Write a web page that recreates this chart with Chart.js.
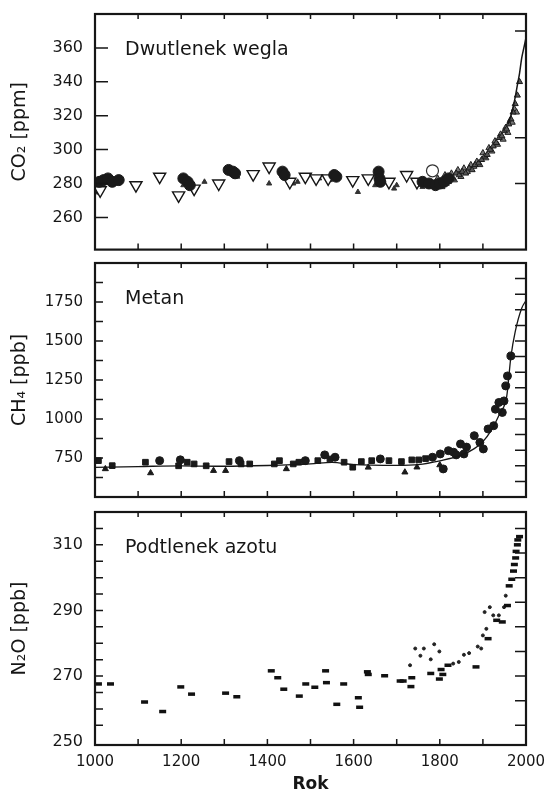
<!DOCTYPE html>
<html>
<head>
<meta charset="utf-8">
<script src="https://cdn.jsdelivr.net/npm/chart.js@4.4.0/dist/chart.umd.min.js"></script>
<style>
  body { margin: 0; background: #fff; }
  canvas { position: absolute; left: 0; }
</style>
</head>
<body>
<canvas id="co2Chart" width="548" height="258" style="top:0"></canvas>
<canvas id="ch4Chart" width="548" height="245" style="top:258px"></canvas>
<canvas id="n2oChart" width="548" height="292" style="top:503px"></canvas>
<script>
// Axis ticks
const xLabels = [1000, 1200, 1400, 1600, 1800, 2000];
const xTickYears = [1100, 1200, 1300, 1400, 1500, 1600, 1700, 1800, 1900];
const co2Ticks = [260, 280, 300, 320, 340, 360];
const co2RightTicks = [280, 307, 370];
const ch4Ticks = [750, 1000, 1250, 1500, 1750];
const ch4MinorTicks = [625, 750, 875, 1000, 1125, 1250, 1375, 1500, 1625, 1750, 1875];
const ch4RightTicks = [600, 700, 800, 900, 1000, 1100, 1200, 1300, 1400, 1500, 1600, 1700, 1800, 1900];
const n2oTicks = [250, 270, 290, 310];
const n2oMinorTicks = [255, 260, 265, 270, 275, 280, 285, 290, 295, 300, 305, 310, 315];
const n2oRightTicks = [255, 262.5, 270, 277.5, 285, 292.5, 300, 307.5, 315];

// CO2 [ppm] - [year, value]
const co2Circles = [[1010, 281], [1020, 282], [1030, 283], [1040, 281], [1055, 282], [1205, 283], [1215, 281], [1220, 279],
  [1310, 288], [1320, 287], [1325, 286], [1435, 287], [1440, 285], [1555, 285], [1560, 284], [1658, 287], [1660, 283],
  [1662, 281], [1760, 281], [1775, 280], [1790, 279], [1800, 280], [1810, 281], [1820, 283]];
const co2OpenTriangles = [[1005, 278], [1012, 276], [1095, 279], [1150, 284], [1194, 273], [1230, 277], [1287, 280],
  [1367, 285.5], [1404, 290], [1452, 281], [1488, 284], [1513, 283], [1541, 283], [1598, 282], [1634, 283], [1682, 281],
  [1723, 285], [1747, 281]];
const co2SmallTriangles = [[1050, 280], [1205, 279], [1254, 281], [1330, 284], [1404, 280], [1460, 280], [1470, 281],
  [1520, 283], [1545, 282], [1610, 275], [1650, 279], [1694, 277], [1700, 279], [1760, 278]];
const co2OpenCircles = [[1783, 287.5]];
const co2IceA = [[1790, 279], [1800, 281], [1808, 282], [1815, 280], [1822, 284], [1830, 283], [1838, 286], [1845, 285],
  [1852, 287], [1860, 286], [1868, 289], [1875, 288], [1882, 291], [1890, 292], [1897, 294], [1904, 296], [1910, 297],
  [1917, 300], [1924, 302], [1931, 304], [1938, 307], [1944, 308], [1950, 311], [1955, 312], [1960, 315], [1965, 318],
  [1970, 322], [1975, 327], [1980, 332], [1985, 340]];
const co2IceB = [[1795, 283], [1805, 278], [1812, 285], [1820, 281], [1827, 286], [1834, 282], [1842, 288], [1849, 284],
  [1856, 289], [1864, 287], [1872, 291], [1879, 290], [1886, 293], [1893, 291], [1900, 298], [1907, 295], [1914, 301],
  [1921, 299], [1928, 305], [1934, 303], [1941, 309], [1947, 306], [1953, 313], [1958, 310], [1963, 317], [1968, 316],
  [1973, 324], [1978, 322]];
const co2Line = [[1958, 315], [1965, 320], [1970, 325], [1975, 331], [1980, 338], [1985, 345], [1990, 354], [1995, 360], [2000, 366]];

// CH4 [ppb]
const ch4Squares = [[1008, 733], [1040, 701], [1117, 723], [1194, 700], [1214, 723], [1230, 712], [1258, 700], [1311, 727],
  [1339, 712], [1359, 712], [1416, 712], [1428, 733], [1460, 712], [1473, 723], [1517, 733], [1545, 744], [1578, 723],
  [1598, 691], [1618, 727], [1642, 733], [1682, 733], [1711, 727], [1735, 738], [1751, 738], [1767, 746]];
const ch4Circles = [[1150, 733], [1198, 738], [1335, 733], [1488, 733], [1533, 770], [1557, 755], [1662, 744], [1783, 755],
  [1801, 776], [1808, 680], [1820, 797], [1832, 787], [1838, 770], [1848, 840], [1856, 776], [1862, 820], [1880, 893],
  [1893, 850], [1901, 808], [1912, 936], [1925, 957], [1929, 1063], [1937, 1106], [1945, 1042], [1949, 1116], [1953, 1212],
  [1957, 1276], [1965, 1404]];
const ch4Triangles = [[1024, 680], [1129, 654], [1275, 669], [1303, 669], [1444, 680], [1634, 690], [1719, 659], [1747, 691], [1800, 705]];
const ch4Line = [[1000, 690], [1100, 695], [1200, 700], [1300, 697], [1400, 702], [1500, 712], [1550, 722], [1600, 708],
  [1700, 703], [1750, 708], [1800, 732], [1850, 768], [1880, 810], [1900, 855], [1920, 930], [1940, 1040], [1955, 1140],
  [1965, 1400], [1975, 1560], [1990, 1710], [2000, 1760]];

// N2O [ppb]
const n2oIce = [[1008, 267.6], [1036, 267.6], [1115, 262.1], [1157, 259.2], [1199, 266.7], [1224, 264.5], [1303, 264.8],
  [1329, 263.7], [1409, 271.6], [1424, 269.5], [1438, 266], [1474, 263.9], [1489, 267.6], [1510, 266.6], [1535, 271.6],
  [1537, 268], [1561, 261.4], [1577, 267.6], [1611, 263.4], [1614, 260.5], [1632, 271.3], [1634, 270.5], [1672, 270.1],
  [1708, 268.5], [1715, 268.5], [1733, 266.8], [1735, 269.5], [1779, 270.8], [1799, 269.1], [1803, 272], [1807, 270.5],
  [1819, 273.3], [1884, 272.8], [1912, 281.4], [1932, 287], [1945, 286.5], [1957, 291.5], [1961, 297.5], [1967, 299.5],
  [1971, 302], [1973, 304], [1976, 306], [1977, 308], [1980, 310], [1981, 311.5], [1985, 312.5]];
const n2oFirn = [[1731, 273.3], [1743, 278.4], [1755, 276.2], [1763, 278.4], [1779, 275.1], [1787, 279.7], [1799, 277.5],
  [1831, 273.8], [1844, 274.3], [1856, 276.5], [1868, 277], [1888, 279], [1896, 278.4], [1900, 282.4], [1904, 289.5],
  [1908, 284.4], [1916, 291], [1924, 288.5], [1937, 288.5], [1949, 291], [1953, 294.5]];

const FONT = 'DejaVu Sans';
const INK = '#161616';
const pts = arr => arr.map(([x, y]) => ({ x, y }));

// Frame, inward ticks and panel title
const framePlugin = {
  id: 'frame',
  afterDatasetsDraw(chart, args, opts) {
    const { ctx, chartArea: a, scales: { x, y } } = chart;
    ctx.save();
    ctx.strokeStyle = INK;
    ctx.lineWidth = 1.5;
    ctx.beginPath();
    xTickYears.forEach(v => {
      const px = x.getPixelForValue(v);
      ctx.moveTo(px, a.bottom); ctx.lineTo(px, a.bottom - 6);
      ctx.moveTo(px, a.top); ctx.lineTo(px, a.top + 5);
    });
    opts.left.forEach(v => {
      const py = y.getPixelForValue(v);
      ctx.moveTo(a.left, py); ctx.lineTo(a.left + opts.tickLen, py);
    });
    opts.right.forEach(v => {
      const py = y.getPixelForValue(v);
      ctx.moveTo(a.right, py); ctx.lineTo(a.right - 11, py);
    });
    ctx.stroke();
    ctx.lineWidth = 2.2;
    ctx.strokeRect(a.left, a.top, a.width, a.height);
    ctx.fillStyle = INK;
    ctx.font = '19px "' + FONT + '"';
    ctx.textBaseline = 'middle';
    ctx.fillText(opts.title, a.left + 30, a.top + 36);
    ctx.restore();
  }
};

function panelOptions(cfg) {
  return {
    responsive: false,
    animation: false,
    layout: { padding: cfg.padding },
    plugins: {
      legend: { display: false },
      tooltip: { enabled: false },
      frame: cfg.frame
    },
    scales: {
      x: {
        type: 'linear',
        min: 1000,
        max: 2000,
        display: cfg.showX,
        afterBuildTicks: s => { s.ticks = xLabels.map(v => ({ value: v })); },
        afterFit: s => {
          if (cfg.showX) s.height = 50;
          s.paddingLeft = 0; s.paddingRight = 0;
        },
        ticks: { font: { family: FONT, size: 15 }, color: INK, padding: 8, maxRotation: 0, autoSkip: false, callback: v => String(v) },
        grid: { display: false, drawTicks: false },
        border: { display: false },
        title: { display: cfg.showX, text: 'Rok', color: INK, font: { family: FONT, size: 17, weight: 'bold' }, padding: { top: 5, bottom: 0 } }
      },
      y: {
        type: 'linear',
        min: cfg.yMin,
        max: cfg.yMax,
        afterBuildTicks: s => { s.ticks = cfg.yTicks.map(v => ({ value: v })); },
        afterFit: s => {
          s.width = 95;
          s.paddingTop = 0; s.paddingBottom = 0;
        },
        ticks: { font: { family: FONT, size: cfg.tickSize }, color: INK, padding: 12, callback: v => String(v) },
        grid: { display: false, drawTicks: false },
        border: { display: false },
        title: { display: true, text: cfg.yTitle, color: INK, font: { family: FONT, size: 19 }, padding: { top: 9, bottom: 0 } }
      }
    }
  };
}

function initCharts() {
  // Chart 1: CO2
  new Chart(document.getElementById('co2Chart'), {
    type: 'scatter',
    data: {
      datasets: [
        { data: pts(co2Line), showLine: true, borderColor: INK, borderWidth: 1.5, pointRadius: 0, tension: 0.3 },
        { data: pts(co2OpenCircles), pointStyle: 'circle', pointRadius: 6, backgroundColor: 'rgba(255,255,255,0)', borderColor: '#333', borderWidth: 1.2 },
        { data: pts(co2Circles), pointStyle: 'circle', pointRadius: 5.5, backgroundColor: '#1a1a1a', borderColor: '#1a1a1a' },
        { data: pts(co2OpenTriangles), pointStyle: 'triangle', rotation: 180, pointRadius: 7, backgroundColor: '#fff', borderColor: INK, borderWidth: 1.4 },
        { data: pts(co2SmallTriangles), pointStyle: 'triangle', pointRadius: 3, backgroundColor: '#333', borderColor: '#333' },
        { data: pts(co2IceA), pointStyle: 'triangle', pointRadius: 3.5, backgroundColor: '#555', borderColor: '#1a1a1a', borderWidth: 1 },
        { data: pts(co2IceB), pointStyle: 'triangle', pointRadius: 3.5, backgroundColor: '#777', borderColor: '#222', borderWidth: 1 }
      ]
    },
    options: panelOptions({
      padding: { top: 14, bottom: 6, left: 0, right: 22 },
      showX: false, yMin: 241, yMax: 380, yTicks: co2Ticks, tickSize: 16,
      yTitle: 'CO₂ [ppm]',
      frame: { title: 'Dwutlenek wegla', left: co2Ticks, right: co2RightTicks, tickLen: 13 }
    }),
    plugins: [framePlugin]
  });

  // Chart 2: CH4
  new Chart(document.getElementById('ch4Chart'), {
    type: 'scatter',
    data: {
      datasets: [
        { data: pts(ch4Line), showLine: true, borderColor: INK, borderWidth: 1.3, pointRadius: 0, cubicInterpolationMode: 'monotone' },
        { data: pts(ch4Squares), pointStyle: 'rect', pointRadius: 4, backgroundColor: '#1a1a1a', borderColor: '#1a1a1a' },
        { data: pts(ch4Circles), pointStyle: 'circle', pointRadius: 4, backgroundColor: '#1a1a1a', borderColor: '#1a1a1a' },
        { data: pts(ch4Triangles), pointStyle: 'triangle', pointRadius: 3.5, backgroundColor: '#1a1a1a', borderColor: '#1a1a1a' }
      ]
    },
    options: panelOptions({
      padding: { top: 4, bottom: 6, left: 0, right: 22 },
      showX: false, yMin: 500, yMax: 2000, yTicks: ch4Ticks, tickSize: 15,
      yTitle: 'CH₄ [ppb]',
      frame: { title: 'Metan', left: ch4MinorTicks, right: ch4RightTicks, tickLen: 8 }
    }),
    plugins: [framePlugin]
  });

  // Chart 3: N2O
  new Chart(document.getElementById('n2oChart'), {
    type: 'scatter',
    data: {
      datasets: [
        { data: pts(n2oIce), pointStyle: 'line', pointRadius: 3.5, borderColor: '#111', borderWidth: 3.5 },
        { data: pts(n2oFirn), pointStyle: 'circle', pointRadius: 1.5, backgroundColor: '#222', borderColor: '#222' }
      ]
    },
    options: panelOptions({
      padding: { top: 9, bottom: 0, left: 0, right: 22 },
      showX: true, yMin: 249, yMax: 320, yTicks: n2oTicks, tickSize: 16,
      yTitle: 'N₂O [ppb]',
      frame: { title: 'Podtlenek azotu', left: n2oMinorTicks, right: n2oRightTicks, tickLen: 8 }
    }),
    plugins: [framePlugin]
  });
}

document.addEventListener('DOMContentLoaded', initCharts);
</script>
</body>
</html>
